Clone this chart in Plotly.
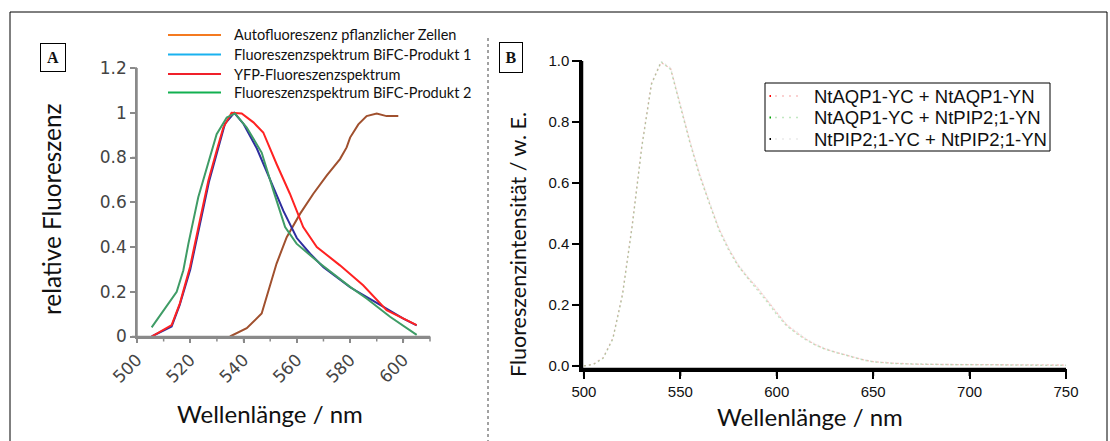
import plotly.graph_objects as go

W, H = 1110, 441

# ---------------- Panel A data (relative fluorescence) ----------------
auto_wl = [534.9, 541.2, 546.8, 549.9, 552.4, 556.2, 561.2, 566.2, 571.2, 576.2, 578.7, 580.0, 583.1, 586.2, 590.0, 593.7, 598.1]
auto_val = [0.0, 0.037, 0.103, 0.222, 0.326, 0.444, 0.548, 0.638, 0.719, 0.793, 0.845, 0.889, 0.948, 0.985, 0.996, 0.985, 0.985]

bifc1_wl = [505.5, 513.0, 516.0, 520.0, 523.6, 527.0, 530.0, 533.0, 536.5, 540.0, 545.0, 550.0, 555.0, 560.0, 565.0, 570.0, 580.0, 590.0, 600.0, 605.0]
bifc1_val = [0.0, 0.045, 0.14, 0.30, 0.50, 0.69, 0.82, 0.95, 1.0, 0.95, 0.84, 0.70, 0.56, 0.44, 0.37, 0.31, 0.22, 0.15, 0.08, 0.05]

yfp_wl = [505.5, 513.0, 516.1, 519.9, 523.6, 526.8, 529.9, 532.4, 535.5, 539.3, 543.7, 547.4, 552.4, 557.4, 562.4, 567.5, 576.2, 584.9, 593.7, 600.0, 605.0]
yfp_val = [0.0, 0.051, 0.148, 0.311, 0.519, 0.697, 0.83, 0.934, 1.0, 0.997, 0.957, 0.912, 0.771, 0.638, 0.489, 0.40, 0.318, 0.229, 0.118, 0.081, 0.051]

bifc2_wl = [505.5, 509.9, 514.9, 517.4, 519.3, 523.0, 526.2, 529.9, 533.7, 536.8, 541.2, 546.8, 551.2, 555.6, 559.9, 568.7, 580.0, 586.2, 595.0, 605.0]
bifc2_val = [0.041, 0.118, 0.20, 0.296, 0.415, 0.622, 0.756, 0.904, 0.979, 0.997, 0.934, 0.822, 0.652, 0.489, 0.415, 0.326, 0.222, 0.17, 0.088, 0.007]

legend_a_names = ["Autofluoreszenz pflanzlicher Zellen", "Fluoreszenzspektrum BiFC-Produkt 1",
                  "YFP-Fluoreszenzspektrum", "Fluoreszenzspektrum BiFC-Produkt 2"]

# tick positions of panel A
a_xticks = [500, 510, 520, 530, 540, 550, 560, 570, 580, 590, 600, 610]
a_yticks = [0, 0.2, 0.4, 0.6, 0.8, 1.0, 1.2]

# ---------------- Panel B data ----------------
wl_b = [500, 505, 510, 515, 520, 525, 530, 535, 540, 545, 550, 555, 560, 565, 570, 575, 580, 585, 590,
        595, 600, 605, 610, 615, 620, 625, 630, 635, 640, 645, 650, 655, 660, 665, 670, 680, 690, 700,
        710, 720, 730, 740, 750]
aqp_aqp = [0.0, 0.006, 0.027, 0.09, 0.235, 0.46, 0.72, 0.925, 0.995, 0.975, 0.855, 0.735, 0.628, 0.535,
           0.45, 0.385, 0.33, 0.29, 0.255, 0.215, 0.172, 0.135, 0.11, 0.088, 0.07, 0.056, 0.046, 0.037,
           0.028, 0.02, 0.014, 0.011, 0.009, 0.008, 0.006, 0.005, 0.005, 0.004, 0.004, 0.004, 0.003, 0.003, 0.003]
aqp_pip = [0.0, 0.005, 0.025, 0.088, 0.232, 0.455, 0.715, 0.922, 0.997, 0.972, 0.85, 0.73, 0.622, 0.53,
           0.445, 0.38, 0.327, 0.287, 0.25, 0.21, 0.168, 0.132, 0.107, 0.086, 0.068, 0.055, 0.045, 0.036,
           0.027, 0.019, 0.013, 0.01, 0.008, 0.007, 0.006, 0.005, 0.004, 0.004, 0.003, 0.003, 0.003, 0.002, 0.002]
pip_pip = [0.0, 0.006, 0.028, 0.092, 0.238, 0.462, 0.722, 0.928, 1.0, 0.977, 0.858, 0.738, 0.63, 0.538,
           0.452, 0.387, 0.333, 0.292, 0.257, 0.217, 0.174, 0.137, 0.112, 0.09, 0.072, 0.058, 0.047, 0.038,
           0.029, 0.021, 0.015, 0.012, 0.01, 0.008, 0.007, 0.006, 0.005, 0.005, 0.004, 0.004, 0.003, 0.003, 0.003]
legend_b_names = ["NtAQP1-YC + NtAQP1-YN", "NtAQP1-YC + NtPIP2;1-YN", "NtPIP2;1-YC + NtPIP2;1-YN"]

# tick positions of panel B
b_xticks = [500, 550, 600, 650, 700, 750]
b_yticks = [0.0, 0.2, 0.4, 0.6, 0.8, 1.0]

CAL = "Lato, Carlito, Calibri, sans-serif"
ARIAL = "Liberation Sans, Arial, sans-serif"


def px(x):
    return x / W


def py(y):
    return 1 - y / H


# axis geometry (paper fractions) and ranges
A_XDOM, A_XRANGE = [px(137), px(430)], [500, 610]
A_YDOM, A_YRANGE = [py(336.5), py(68)], [0, 1.2]
B_XDOM, B_XRANGE = [px(582), px(1066)], [499, 750]
B_YDOM, B_YRANGE = [py(369), py(61)], [-0.01, 1.0]


def to_paper(v, dom, rng):
    return dom[0] + (v - rng[0]) / (rng[1] - rng[0]) * (dom[1] - dom[0])


fig = go.Figure()

# Panel A curves
curve_colors = ["#a0502e", "#2e2e9e", "#ff2222", "#3f9c66"]
for wl, val, name, c in [(auto_wl, auto_val, legend_a_names[0], curve_colors[0]),
                         (bifc1_wl, bifc1_val, legend_a_names[1], curve_colors[1]),
                         (yfp_wl, yfp_val, legend_a_names[2], curve_colors[2]),
                         (bifc2_wl, bifc2_val, legend_a_names[3], curve_colors[3])]:
    fig.add_trace(go.Scatter(x=wl, y=val, mode="lines", name=name, line=dict(color=c, width=2),
                             showlegend=False, xaxis="x", yaxis="y"))

# Panel B curves (very faint dotted lines)
b_colors = ["rgba(240,120,120,0.45)", "rgba(110,200,110,0.42)", "rgba(140,140,140,0.18)"]
b_key_colors = ["#ff0000", "#00a000", "#000000"]
for vals, name, c in zip([aqp_aqp, aqp_pip, pip_pip], legend_b_names, b_colors):
    fig.add_trace(go.Scatter(x=wl_b, y=vals, mode="lines", name=name,
                             line=dict(color=c, width=1.3, dash="2px,3px"),
                             showlegend=False, xaxis="x2", yaxis="y2"))

A_LINE = "#8a8a8a"
axA = dict(showline=True, linecolor=A_LINE, linewidth=1.5, ticks="outside", ticklen=5,
           tickcolor=A_LINE, tickwidth=1.5, showgrid=False, zeroline=False, automargin=False,
           tickfont=dict(family="DejaVu Sans", size=17, color="#444"))
axB = dict(showline=True, linecolor="black", linewidth=2.5, ticks="outside", ticklen=7,
           tickcolor="black", tickwidth=2, showgrid=False, zeroline=False, automargin=False,
           tickfont=dict(family=ARIAL, size=15, color="#111"))

fig.update_layout(
    template="none",
    width=W, height=H, margin=dict(l=0, r=0, t=0, b=0, pad=0, autoexpand=False),
    paper_bgcolor="white", plot_bgcolor="white",
    xaxis=dict(axA, domain=A_XDOM, range=A_XRANGE, tick0=500, dtick=20, tickangle=-45, anchor="y"),
    yaxis=dict(axA, domain=A_YDOM, range=A_YRANGE, dtick=0.2, anchor="x"),
    xaxis2=dict(axB, domain=B_XDOM, range=B_XRANGE, tick0=500, dtick=50, anchor="y2"),
    yaxis2=dict(axB, domain=B_YDOM, range=B_YRANGE, tick0=0, dtick=0.2, tickformat=".1f", anchor="x2"),
    showlegend=False,
)

ann = [
    dict(text="Wellenlänge / nm", x=px(270), y=py(413), font=dict(family=CAL, size=24, color="#111")),
    dict(text="relative Fluoreszenz", x=px(51), y=py(210), textangle=-90,
         font=dict(family=CAL, size=24.3, color="#111")),
    dict(text="Wellenlänge / nm", x=px(810), y=py(416), font=dict(family=CAL, size=24, color="#111")),
    dict(text="Fluoreszenzintensität / w. E.", x=px(518), y=py(245), textangle=-90,
         font=dict(family=CAL, size=21.5, color="#111")),
    dict(text="<b>A</b>", x=px(53), y=py(57.5), width=22, height=25, borderpad=1, bordercolor="black",
         borderwidth=1, font=dict(family="Liberation Serif", size=16, color="#111")),
    dict(text="<b>B</b>", x=px(511), y=py(57.5), width=20, height=27, borderpad=1, bordercolor="black",
         borderwidth=1, font=dict(family="Liberation Serif", size=16, color="#111")),
]
for a in ann:
    a.update(xanchor="center", yanchor="middle", xref="paper", yref="paper")

shapes = [
    dict(type="rect", x0=px(10), x1=px(1107), y0=py(12), y1=py(460), line=dict(color="black", width=1)),
    dict(type="line", x0=px(488), x1=px(488), y0=py(38), y1=py(441),
         line=dict(color="#444", width=1, dash="dot")),
]


def axis_frame(xdom, xrng, ydom, yrng, xt, yt, color, lw, tw, tl):
    """Axis lines and tick marks, placed with the axes' own domains and ranges (paper coordinates)."""
    tlx, tly = tl / W, tl / H
    out = [
        dict(type="line", x0=xdom[0], x1=xdom[1], y0=ydom[0], y1=ydom[0], line=dict(color=color, width=lw)),
        dict(type="line", x0=xdom[0], x1=xdom[0], y0=ydom[0], y1=ydom[1], line=dict(color=color, width=lw)),
    ]
    for v in xt:
        xp = to_paper(v, xdom, xrng)
        out.append(dict(type="line", x0=xp, x1=xp, y0=ydom[0], y1=ydom[0] - tly, line=dict(color=color, width=tw)))
    for v in yt:
        yp = to_paper(v, ydom, yrng)
        out.append(dict(type="line", x0=xdom[0] - tlx, x1=xdom[0], y0=yp, y1=yp, line=dict(color=color, width=tw)))
    return out


shapes += axis_frame(A_XDOM, A_XRANGE, A_YDOM, A_YRANGE, a_xticks, a_yticks, A_LINE, 1.5, 1.5, 5)
shapes += axis_frame(B_XDOM, B_XRANGE, B_YDOM, B_YRANGE, b_xticks, b_yticks, "black", 2.5, 2, 7)

# Legend A (key lines + labels)
legend_a_colors = ["#f47a20", "#1ab2ef", "#f0202a", "#12b050"]
legend_a_rows = [35, 54.5, 74, 92.5]
for name, c, ry in zip(legend_a_names, legend_a_colors, legend_a_rows):
    shapes.append(dict(type="line", x0=px(168), x1=px(221), y0=py(ry), y1=py(ry), line=dict(color=c, width=2)))
    ann.append(dict(text=name, xref="paper", yref="paper", x=px(232), y=py(ry), xanchor="left",
                    yanchor="middle", font=dict(family=CAL, size=14.5, color="#111")))

# Legend B (boxed)
shapes.append(dict(type="rect", x0=px(765), x1=px(1050), y0=py(83), y1=py(151),
                   line=dict(color="black", width=1), fillcolor="rgba(0,0,0,0)"))
legend_b_rows = [96, 117.5, 139]
for name, c, kc, ry in zip(legend_b_names, b_colors, b_key_colors, legend_b_rows):
    shapes.append(dict(type="line", x0=px(775), x1=px(801), y0=py(ry), y1=py(ry),
                       line=dict(color=c, width=1.3, dash="2px,5px")))
    shapes.append(dict(type="line", x0=px(769.5), x1=px(771), y0=py(ry), y1=py(ry),
                       line=dict(color=kc, width=2)))
    ann.append(dict(text=name, xref="paper", yref="paper", x=px(812), y=py(ry), xanchor="left",
                    yanchor="middle", font=dict(family=ARIAL, size=18.5, color="#111")))

for a in ann:
    a.update(showarrow=False)
for s in shapes:
    s.update(xref="paper", yref="paper")

fig.update_layout(annotations=ann, shapes=shapes)

fig.write_html("out.html")
